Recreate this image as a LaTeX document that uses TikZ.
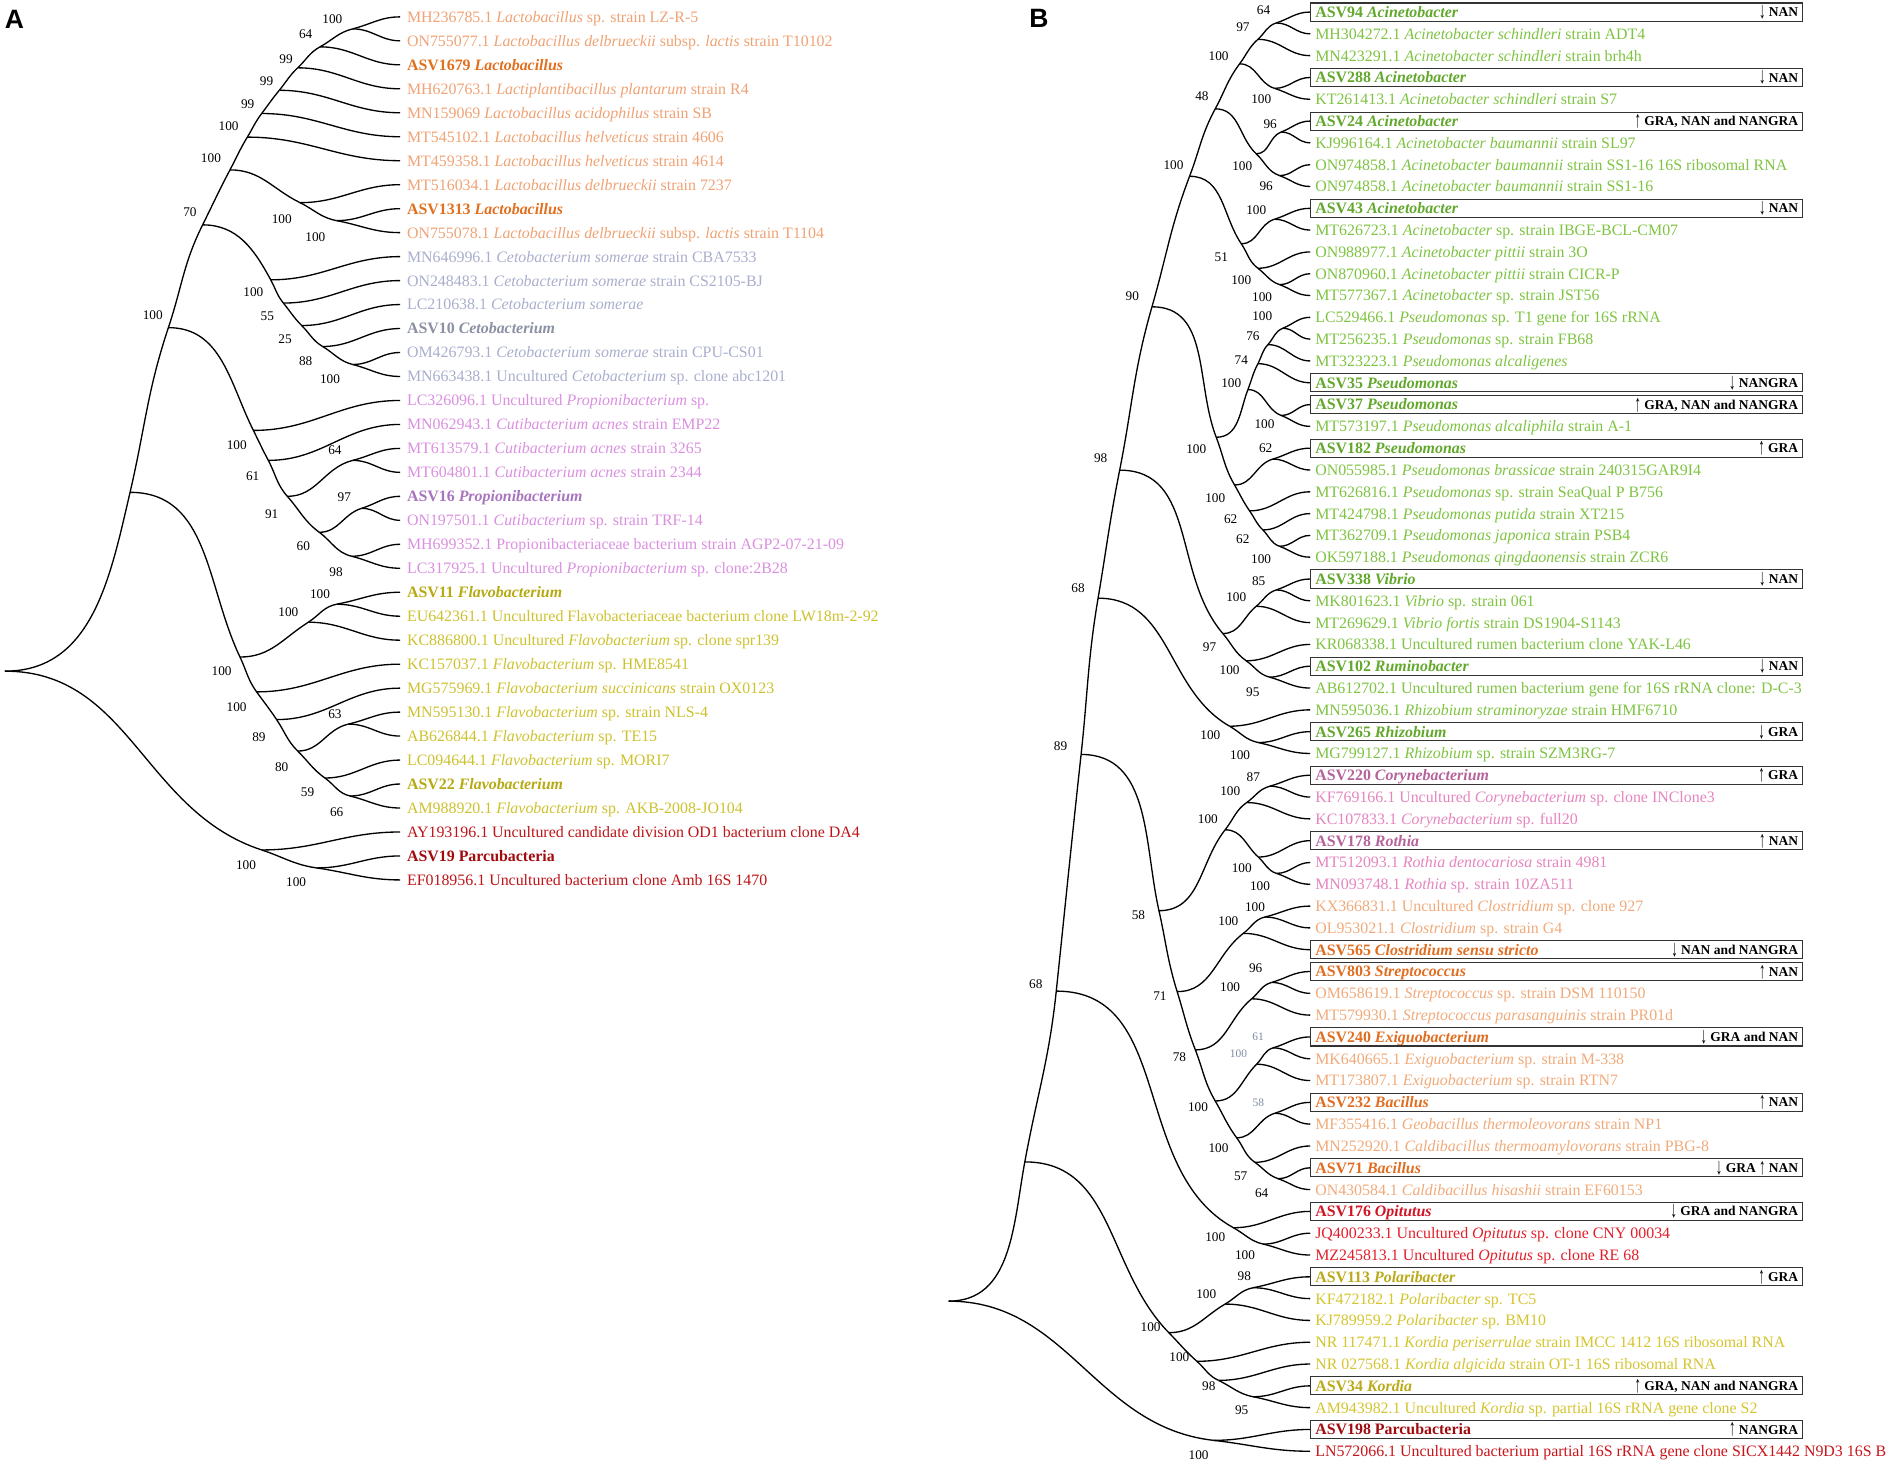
\documentclass[tikz,border=0pt]{standalone}
\usepackage{fontspec}
\usepackage{graphicx}
\setmainfont{Liberation Serif}
\newfontfamily\lsans{Liberation Sans}
\usetikzlibrary{calc}
\definecolor{lacL}{HTML}{EFA274}
\definecolor{lacD}{HTML}{E0701F}
\definecolor{cetL}{HTML}{A9AECC}
\definecolor{cetD}{HTML}{8B90A3}
\definecolor{proL}{HTML}{DA8FE0}
\definecolor{proD}{HTML}{A874BE}
\definecolor{flaL}{HTML}{CDC12E}
\definecolor{flaD}{HTML}{B5AA12}
\definecolor{parL}{HTML}{BC1418}
\definecolor{parD}{HTML}{A10B0E}
\definecolor{grL}{HTML}{7EC341}
\definecolor{grD}{HTML}{62A82C}
\definecolor{pkL}{HTML}{E585BF}
\definecolor{pkD}{HTML}{B5639A}
\definecolor{orL}{HTML}{F0AA7A}
\definecolor{orD}{HTML}{E06E22}
\definecolor{rdL}{HTML}{E11F2A}
\definecolor{rdD}{HTML}{D11525}
\definecolor{ylL}{HTML}{D4C42E}
\definecolor{ylD}{HTML}{BAAA1A}
\definecolor{pbL}{HTML}{C8141A}
\definecolor{lbgray}{HTML}{7D8BA0}
\newcommand\nd[4]{\path let \p1=($(#3)!.5!(#4)$) in coordinate (#1) at (#2pt,\y1);}
\newcommand\eHH[2]{\draw[br] let \p1=(#1),\p2=(#2),\n1={0.4*veclen(\x2-\x1,\y2-\y1)} in (#1) .. controls ($(#1)+(\n1,0pt)$) and ($(#2)-(\n1,0pt)$) .. (#2);}
\newcommand\eHT[3]{\draw[br] let \p1=(#1),\p2=(#2),\n1={0.4*veclen(\x2-\x1,\y2-\y1)} in (#1) .. controls ($(#1)+(\n1,0pt)$) and ($(#2)!\n1!180:(#3)$) .. (#2);}
\newcommand\eTH[2]{\draw[br] let \p1=(#1),\p2=(#2),\n1={0.4*veclen(\x2-\x1,\y2-\y1)} in (#1) .. controls ($(#1)!\n1!(#2)$) and ($(#2)-(\n1,0pt)$) .. (#2);}
\newcommand\eTT[3]{\draw[br] let \p1=(#1),\p2=(#2),\n1={0.4*veclen(\x2-\x1,\y2-\y1)} in (#1) .. controls ($(#1)!\n1!(#2)$) and ($(#2)!\n1!180:(#3)$) .. (#2);}
\newcommand\lfA[4]{\coordinate (#1) at (332,{14+(#2-1)*19.8889}); \node[leaf,text=#3] (t#1) at ($(#1)+(5.5,4.5)$) {#4};}
\newcommand\lfB[4]{\coordinate (#1) at (1087,{10+(#2-1)*18.0909}); \node[leaf,text=#3] (t#1) at ($(#1)+(4,4.5)$) {#4};}
\newcommand\bxB[2]{\node[bx] (x#1) at ($(#1)+(204,0)$) {}; \node[anno] (n#1) at ($(#1)+(405,3.8)$) {#2};}
\newcommand\bs[4]{\node[bsl] (l#1) at ($(#1)+(#2,#3)$) {#4};}
\newcommand\bsg[4]{\node[bsl,text=lbgray,font=\fontsize{9.5}{10}\selectfont] (l#1) at ($(#1)+(#2,#3)$) {#4};}
\newcommand\dn{\raisebox{-1.6pt}{\scalebox{0.85}[1.55]{\mdseries\fontsize{12.5}{12}\selectfont ↓}}}
\newcommand\up{\raisebox{-1.6pt}{\scalebox{0.85}[1.55]{\mdseries\fontsize{12.5}{12}\selectfont ↑}}}
\begin{document}
\begin{tikzpicture}[x=1pt,y=-1pt,
  br/.style={line width=1.1pt,black},
  leaf/.style={anchor=base west,inner sep=0pt,font=\fontsize{13.2}{14}\selectfont},
  bsl/.style={inner sep=0pt,font=\fontsize{11}{12}\selectfont},
  bx/.style={draw=black!80,line width=0.85pt,minimum width=408pt,minimum height=15pt,inner sep=0pt},
  anno/.style={anchor=base east,inner sep=0pt,font=\fontsize{11.2}{12}\selectfont\bfseries}]
\useasboundingbox (0,0) rectangle (1568,1215);
\node[font=\lsans\bfseries\fontsize{22}{22}\selectfont,inner sep=0pt] (pA) at (12,16) {A};
\node[font=\lsans\bfseries\fontsize{22}{22}\selectfont,inner sep=0pt] (pB) at (862,15) {B};
% ---------------- Panel A leaves
\lfA{a1}{1}{lacL}{MH236785.1 \textit{Lactobacillus} sp. strain LZ-R-5}
\lfA{a2}{2}{lacL}{ON755077.1 \textit{Lactobacillus delbrueckii} subsp. \textit{lactis} strain T10102}
\lfA{a3}{3}{lacD}{\textbf{ASV1679 \textit{Lactobacillus}}}
\lfA{a4}{4}{lacL}{MH620763.1 \textit{Lactiplantibacillus plantarum} strain R4}
\lfA{a5}{5}{lacL}{MN159069 \textit{Lactobacillus acidophilus} strain SB}
\lfA{a6}{6}{lacL}{MT545102.1 \textit{Lactobacillus helveticus} strain 4606}
\lfA{a7}{7}{lacL}{MT459358.1 \textit{Lactobacillus helveticus} strain 4614}
\lfA{a8}{8}{lacL}{MT516034.1 \textit{Lactobacillus delbrueckii} strain 7237}
\lfA{a9}{9}{lacD}{\textbf{ASV1313 \textit{Lactobacillus}}}
\lfA{a10}{10}{lacL}{ON755078.1 \textit{Lactobacillus delbrueckii} subsp. \textit{lactis} strain T1104}
\lfA{a11}{11}{cetL}{MN646996.1 \textit{Cetobacterium somerae} strain CBA7533}
\lfA{a12}{12}{cetL}{ON248483.1 \textit{Cetobacterium somerae} strain CS2105-BJ}
\lfA{a13}{13}{cetL}{LC210638.1 \textit{Cetobacterium somerae}}
\lfA{a14}{14}{cetD}{\textbf{ASV10 \textit{Cetobacterium}}}
\lfA{a15}{15}{cetL}{OM426793.1 \textit{Cetobacterium somerae} strain CPU-CS01}
\lfA{a16}{16}{cetL}{MN663438.1 Uncultured \textit{Cetobacterium} sp. clone abc1201}
\lfA{a17}{17}{proL}{LC326096.1 Uncultured \textit{Propionibacterium} sp.}
\lfA{a18}{18}{proL}{MN062943.1 \textit{Cutibacterium acnes} strain EMP22}
\lfA{a19}{19}{proL}{MT613579.1 \textit{Cutibacterium acnes} strain 3265}
\lfA{a20}{20}{proL}{MT604801.1 \textit{Cutibacterium acnes} strain 2344}
\lfA{a21}{21}{proD}{\textbf{ASV16 \textit{Propionibacterium}}}
\lfA{a22}{22}{proL}{ON197501.1 \textit{Cutibacterium} sp. strain TRF-14}
\lfA{a23}{23}{proL}{MH699352.1 Propionibacteriaceae bacterium strain AGP2-07-21-09}
\lfA{a24}{24}{proL}{LC317925.1 Uncultured \textit{Propionibacterium} sp. clone:2B28}
\lfA{a25}{25}{flaD}{\textbf{ASV11 \textit{Flavobacterium}}}
\lfA{a26}{26}{flaL}{EU642361.1 Uncultured Flavobacteriaceae bacterium clone LW18m-2-92}
\lfA{a27}{27}{flaL}{KC886800.1 Uncultured \textit{Flavobacterium} sp. clone spr139}
\lfA{a28}{28}{flaL}{KC157037.1 \textit{Flavobacterium} sp. HME8541}
\lfA{a29}{29}{flaL}{MG575969.1 \textit{Flavobacterium succinicans} strain OX0123}
\lfA{a30}{30}{flaL}{MN595130.1 \textit{Flavobacterium} sp. strain NLS-4}
\lfA{a31}{31}{flaL}{AB626844.1 \textit{Flavobacterium} sp. TE15}
\lfA{a32}{32}{flaL}{LC094644.1 \textit{Flavobacterium} sp. MORI7}
\lfA{a33}{33}{flaD}{\textbf{ASV22 \textit{Flavobacterium}}}
\lfA{a34}{34}{flaL}{AM988920.1 \textit{Flavobacterium} sp. AKB-2008-JO104}
\lfA{a35}{35}{parL}{AY193196.1 Uncultured candidate division OD1 bacterium clone DA4}
\lfA{a36}{36}{parD}{\textbf{ASV19 Parcubacteria}}
\lfA{a37}{37}{parL}{EF018956.1 Uncultured bacterium clone Amb 16S 1470}
% ---------------- Panel A internal nodes
\nd{l6}{292.6}{a1}{a2}
\nd{l5}{265.5}{l6}{a3}
\nd{l4}{247}{l5}{a4}
\nd{l3}{231.7}{l4}{a5}
\nd{l2}{217.1}{l3}{a6}
\nd{l1}{205.2}{l2}{a7}
\nd{l10}{279.3}{a9}{a10}
\nd{l9}{248.9}{a8}{l10}
\nd{lac}{190.8}{l1}{l9}
\nd{c5}{292.6}{a15}{a16}
\nd{c4}{267.7}{a14}{c5}
\nd{c3}{250.3}{a13}{c4}
\nd{c2}{235.1}{a12}{c3}
\nd{cet}{224.6}{a11}{c2}
\nd{nA2}{168.1}{lac}{cet}
\nd{p4}{292.6}{a19}{a20}
\nd{p6}{300}{a21}{a22}
\nd{p7}{291.8}{a23}{a24}
\nd{p5}{264.9}{p6}{p7}
\nd{p3}{238.4}{p4}{p5}
\nd{p2}{222.6}{a18}{p3}
\nd{pro}{210.2}{a17}{p2}
\nd{nA1}{139.7}{nA2}{pro}
\nd{f2}{279.3}{a25}{a26}
\nd{f1}{255.8}{f2}{a27}
\nd{f7}{289}{a30}{a31}
\nd{f9}{290.4}{a33}{a34}
\nd{f8}{269.6}{a32}{f9}
\nd{f6}{247}{f7}{f8}
\nd{f5}{229.5}{a29}{f6}
\nd{f4}{212.9}{a28}{f5}
\nd{fla}{199.1}{f1}{f4}
\nd{big}{107.9}{nA1}{fla}
\nd{pc2}{262.7}{a36}{a37}
\nd{pc}{217.1}{a35}{pc2}
\nd{rA}{4.1}{big}{pc}
% ---------------- Panel A branches
\eHT{rA}{big}{nA1}
\eHT{rA}{pc}{pc2}
\eTT{big}{nA1}{nA2}
\eHT{big}{fla}{f4}
\eTT{nA1}{nA2}{lac}
\eHT{nA1}{pro}{p2}
\eTT{nA2}{lac}{l1}
\eHT{nA2}{cet}{c2}
\eTT{lac}{l1}{l2}
\eHT{lac}{l9}{l10}
\eTT{l1}{l2}{l3}
\eHH{l1}{a7}
\eTT{l2}{l3}{l4}
\eHH{l2}{a6}
\eTT{l3}{l4}{l5}
\eHH{l3}{a5}
\eTT{l4}{l5}{l6}
\eHH{l4}{a4}
\eTT{l5}{l6}{a1}
\eHH{l5}{a3}
\eTH{l6}{a1}
\eHH{l6}{a2}
\eHH{l9}{a8}
\eTT{l9}{l10}{a10}
\eHH{l10}{a9}
\eTH{l10}{a10}
\eHH{cet}{a11}
\eTT{cet}{c2}{c3}
\eHH{c2}{a12}
\eTT{c2}{c3}{c4}
\eHH{c3}{a13}
\eTT{c3}{c4}{c5}
\eHH{c4}{a14}
\eTT{c4}{c5}{a16}
\eHH{c5}{a15}
\eTH{c5}{a16}
\eHH{pro}{a17}
\eTT{pro}{p2}{p3}
\eHH{p2}{a18}
\eTT{p2}{p3}{p5}
\eHT{p3}{p4}{a19}
\eTT{p3}{p5}{p7}
\eTH{p4}{a19}
\eHH{p4}{a20}
\eHT{p5}{p6}{a21}
\eTT{p5}{p7}{a24}
\eTH{p6}{a21}
\eHH{p6}{a22}
\eHH{p7}{a23}
\eTH{p7}{a24}
\eHT{fla}{f1}{f2}
\eTT{fla}{f4}{f5}
\eTT{f1}{f2}{a25}
\eHH{f1}{a27}
\eTH{f2}{a25}
\eHH{f2}{a26}
\eHH{f4}{a28}
\eTT{f4}{f5}{f6}
\eHH{f5}{a29}
\eTT{f5}{f6}{f8}
\eHT{f6}{f7}{a30}
\eTT{f6}{f8}{f9}
\eTH{f7}{a30}
\eHH{f7}{a31}
\eHH{f8}{a32}
\eTT{f8}{f9}{a34}
\eHH{f9}{a33}
\eTH{f9}{a34}
\eHH{pc}{a35}
\eTT{pc}{pc2}{a37}
\eHH{pc2}{a36}
\eTH{pc2}{a37}
% ---------------- Panel A support values
\bs{l6}{-16.9}{-8.1}{100}
\bs{l5}{-11.9}{-10.5}{64}
\bs{l4}{-9.7}{-7.2}{99}
\bs{l3}{-10.5}{-7.6}{99}
\bs{l2}{-11.6}{-8.1}{99}
\bs{l1}{-15.5}{-9.1}{100}
\bs{lac}{-15.8}{-9.5}{100}
\bs{nA2}{-10.5}{-10.5}{70}
\bs{nA1}{-13}{-10.5}{100}
\bs{l9}{-15.2}{13.6}{100}
\bs{l10}{-17.7}{13.4}{100}
\bs{cet}{-14.4}{10.5}{100}
\bs{c2}{-13.3}{11}{55}
\bs{c3}{-13.8}{11.5}{25}
\bs{c4}{-14.1}{11.9}{88}
\bs{c5}{-18.8}{11.9}{100}
\bs{pro}{-13.8}{11.9}{100}
\bs{p2}{-13}{13.4}{61}
\bs{p3}{-13}{14.8}{91}
\bs{p4}{-14.7}{-8.1}{64}
\bs{p5}{-13.3}{11.5}{60}
\bs{p6}{-14.4}{-9.5}{97}
\bs{p7}{-13}{12.9}{98}
\bs{fla}{-15.2}{11.5}{100}
\bs{f1}{-16.6}{-8.1}{100}
\bs{f2}{-13.8}{-8.6}{100}
\bs{f4}{-16.6}{12.9}{100}
\bs{f5}{-14.7}{14.3}{89}
\bs{f6}{-13.3}{13.4}{80}
\bs{f7}{-11.1}{-8.1}{63}
\bs{f8}{-14.4}{11.9}{59}
\bs{f9}{-11.1}{13.4}{66}
\bs{pc}{-13}{12.9}{100}
\bs{pc2}{-17}{12}{100}
% ---------------- Panel B leaves
\lfB{B1}{1}{grD}{\textbf{ASV94 \textit{Acinetobacter}}}
\lfB{B2}{2}{grL}{MH304272.1 \textit{Acinetobacter schindleri} strain ADT4}
\lfB{B3}{3}{grL}{MN423291.1 \textit{Acinetobacter schindleri} strain brh4h}
\lfB{B4}{4}{grD}{\textbf{ASV288 \textit{Acinetobacter}}}
\lfB{B5}{5}{grL}{KT261413.1 \textit{Acinetobacter schindleri} strain S7}
\lfB{B6}{6}{grD}{\textbf{ASV24 \textit{Acinetobacter}}}
\lfB{B7}{7}{grL}{KJ996164.1 \textit{Acinetobacter baumannii} strain SL97}
\lfB{B8}{8}{grL}{ON974858.1 \textit{Acinetobacter baumannii} strain SS1-16 16S ribosomal RNA}
\lfB{B9}{9}{grL}{ON974858.1 \textit{Acinetobacter baumannii} strain SS1-16}
\lfB{B10}{10}{grD}{\textbf{ASV43 \textit{Acinetobacter}}}
\lfB{B11}{11}{grL}{MT626723.1 \textit{Acinetobacter} sp. strain IBGE-BCL-CM07}
\lfB{B12}{12}{grL}{ON988977.1 \textit{Acinetobacter pittii} strain 3O}
\lfB{B13}{13}{grL}{ON870960.1 \textit{Acinetobacter pittii} strain CICR-P}
\lfB{B14}{14}{grL}{MT577367.1 \textit{Acinetobacter} sp. strain JST56}
\lfB{B15}{15}{grL}{LC529466.1 \textit{Pseudomonas} sp. T1 gene for 16S rRNA}
\lfB{B16}{16}{grL}{MT256235.1 \textit{Pseudomonas} sp. strain FB68}
\lfB{B17}{17}{grL}{MT323223.1 \textit{Pseudomonas alcaligenes}}
\lfB{B18}{18}{grD}{\textbf{ASV35 \textit{Pseudomonas}}}
\lfB{B19}{19}{grD}{\textbf{ASV37 \textit{Pseudomonas}}}
\lfB{B20}{20}{grL}{MT573197.1 \textit{Pseudomonas alcaliphila} strain A-1}
\lfB{B21}{21}{grD}{\textbf{ASV182 \textit{Pseudomonas}}}
\lfB{B22}{22}{grL}{ON055985.1 \textit{Pseudomonas brassicae} strain 240315GAR9I4}
\lfB{B23}{23}{grL}{MT626816.1 \textit{Pseudomonas} sp. strain SeaQual P B756}
\lfB{B24}{24}{grL}{MT424798.1 \textit{Pseudomonas putida} strain XT215}
\lfB{B25}{25}{grL}{MT362709.1 \textit{Pseudomonas japonica} strain PSB4}
\lfB{B26}{26}{grL}{OK597188.1 \textit{Pseudomonas qingdaonensis} strain ZCR6}
\lfB{B27}{27}{grD}{\textbf{ASV338 \textit{Vibrio}}}
\lfB{B28}{28}{grL}{MK801623.1 \textit{Vibrio} sp. strain 061}
\lfB{B29}{29}{grL}{MT269629.1 \textit{Vibrio fortis} strain DS1904-S1143}
\lfB{B30}{30}{grL}{KR068338.1 Uncultured rumen bacterium clone YAK-L46}
\lfB{B31}{31}{grD}{\textbf{ASV102 \textit{Ruminobacter}}}
\lfB{B32}{32}{grL}{AB612702.1 Uncultured rumen bacterium gene for 16S rRNA clone: D-C-3}
\lfB{B33}{33}{grL}{MN595036.1 \textit{Rhizobium straminoryzae} strain HMF6710}
\lfB{B34}{34}{grD}{\textbf{ASV265 \textit{Rhizobium}}}
\lfB{B35}{35}{grL}{MG799127.1 \textit{Rhizobium} sp. strain SZM3RG-7}
\lfB{B36}{36}{pkD}{\textbf{ASV220 \textit{Corynebacterium}}}
\lfB{B37}{37}{pkL}{KF769166.1 Uncultured \textit{Corynebacterium} sp. clone INClone3}
\lfB{B38}{38}{pkL}{KC107833.1 \textit{Corynebacterium} sp. full20}
\lfB{B39}{39}{pkD}{\textbf{ASV178 \textit{Rothia}}}
\lfB{B40}{40}{pkL}{MT512093.1 \textit{Rothia dentocariosa} strain 4981}
\lfB{B41}{41}{pkL}{MN093748.1 \textit{Rothia} sp. strain 10ZA511}
\lfB{B42}{42}{orL}{KX366831.1 Uncultured \textit{Clostridium} sp. clone 927}
\lfB{B43}{43}{orL}{OL953021.1 \textit{Clostridium} sp. strain G4}
\lfB{B44}{44}{orD}{\textbf{ASV565 \textit{Clostridium sensu stricto}}}
\lfB{B45}{45}{orD}{\textbf{ASV803 \textit{Streptococcus}}}
\lfB{B46}{46}{orL}{OM658619.1 \textit{Streptococcus} sp. strain DSM 110150}
\lfB{B47}{47}{orL}{MT579930.1 \textit{Streptococcus parasanguinis} strain PR01d}
\lfB{B48}{48}{orD}{\textbf{ASV240 \textit{Exiguobacterium}}}
\lfB{B49}{49}{orL}{MK640665.1 \textit{Exiguobacterium} sp. strain M-338}
\lfB{B50}{50}{orL}{MT173807.1 \textit{Exiguobacterium} sp. strain RTN7}
\lfB{B51}{51}{orD}{\textbf{ASV232 \textit{Bacillus}}}
\lfB{B52}{52}{orL}{MF355416.1 \textit{Geobacillus thermoleovorans} strain NP1}
\lfB{B53}{53}{orL}{MN252920.1 \textit{Caldibacillus thermoamylovorans} strain PBG-8}
\lfB{B54}{54}{orD}{\textbf{ASV71 \textit{Bacillus}}}
\lfB{B55}{55}{orL}{ON430584.1 \textit{Caldibacillus hisashii} strain EF60153}
\lfB{B56}{56}{rdD}{\textbf{ASV176 \textit{Opitutus}}}
\lfB{B57}{57}{rdL}{JQ400233.1 Uncultured \textit{Opitutus} sp. clone CNY 00034}
\lfB{B58}{58}{rdL}{MZ245813.1 Uncultured \textit{Opitutus} sp. clone RE 68}
\lfB{B59}{59}{ylD}{\textbf{ASV113 \textit{Polaribacter}}}
\lfB{B60}{60}{ylL}{KF472182.1 \textit{Polaribacter} sp. TC5}
\lfB{B61}{61}{ylL}{KJ789959.2 \textit{Polaribacter} sp. BM10}
\lfB{B62}{62}{ylL}{NR 117471.1 \textit{Kordia periserrulae} strain IMCC 1412 16S ribosomal RNA}
\lfB{B63}{63}{ylL}{NR 027568.1 \textit{Kordia algicida} strain OT-1 16S ribosomal RNA}
\lfB{B64}{64}{ylD}{\textbf{ASV34 \textit{Kordia}}}
\lfB{B65}{65}{ylL}{AM943982.1 Uncultured \textit{Kordia} sp. partial 16S rRNA gene clone S2}
\lfB{B66}{66}{parD}{\textbf{ASV198 Parcubacteria}}
\lfB{B67}{67}{pbL}{LN572066.1 Uncultured bacterium partial 16S rRNA gene clone SICX1442 N9D3 16S B}
% ---------------- Panel B internal nodes
\nd{q1}{1058.8}{B1}{B2}
\nd{q2}{1043.6}{q1}{B3}
\nd{q4}{1057.4}{B4}{B5}
\nd{q3}{1028.4}{q2}{q4}
\nd{q7}{1062.9}{B6}{B7}
\nd{q8}{1061.5}{B8}{B9}
\nd{q6}{1042.2}{q7}{q8}
\nd{q5}{1008.2}{q3}{q6}
\nd{q11}{1057.4}{B10}{B11}
\nd{q13}{1061.5}{B13}{B14}
\nd{q12}{1043.6}{B12}{q13}
\nd{q10}{1029.8}{q11}{q12}
\nd{q9}{986.9}{q5}{q10}
\nd{q17}{1064.3}{B15}{B16}
\nd{q18}{1051.9}{q17}{B17}
\nd{q19}{1043.6}{q18}{B18}
\nd{q19b}{1062.9}{B19}{B20}
\nd{q16}{1035.3}{q19}{q19b}
\nd{q21}{1056}{B21}{B22}
\nd{q22c}{1061.5}{B25}{B26}
\nd{q22b}{1047.7}{B24}{q22c}
\nd{q22}{1036.7}{B23}{q22b}
\nd{q20}{1024.2}{q21}{q22}
\nd{q15}{1009}{q16}{q20}
\nd{q14}{955.7}{q9}{q15}
\nd{v1}{1058.8}{B27}{B28}
\nd{v2}{1042.2}{v1}{B29}
\nd{v4}{1053.2}{B31}{B32}
\nd{v3}{1033.9}{B30}{v4}
\nd{q24}{1014.5}{v2}{v3}
\nd{q23}{928.9}{q14}{q24}
\nd{rh2}{1043.9}{B34}{B35}
\nd{rh}{1020.1}{B33}{rh2}
\nd{q25}{911}{q23}{rh}
\nd{co2}{1053.5}{B36}{B37}
\nd{co}{1034.3}{co2}{B38}
\nd{ro2}{1059}{B40}{B41}
\nd{ro}{1043.9}{B39}{ro2}
\nd{cr}{1016.4}{co}{ro}
\nd{cl2}{1049.4}{B42}{B43}
\nd{cl}{1031.5}{cl2}{B44}
\nd{st2}{1054.9}{B45}{B46}
\nd{st}{1038.4}{st2}{B47}
\nd{ex2}{1056.2}{B48}{B49}
\nd{ex}{1042.5}{ex2}{B50}
\nd{ba1}{1057.6}{B51}{B52}
\nd{ba3}{1060.4}{B54}{B55}
\nd{ba2}{1041.1}{B53}{ba3}
\nd{g4}{1026}{ba1}{ba2}
\nd{g3}{1008.2}{ex}{g4}
\nd{g2}{991.7}{st}{g3}
\nd{fi}{976.6}{cl}{g2}
\nd{gp}{961.5}{cr}{fi}
\nd{r3}{896.9}{q25}{gp}
\nd{op2}{1048}{B57}{B58}
\nd{op}{1023.3}{B56}{op2}
\nd{r2}{876.3}{r3}{op}
\nd{po2}{1039.7}{B59}{B60}
\nd{po}{1016.4}{po2}{B61}
\nd{k3}{1039.7}{B64}{B65}
\nd{k2}{1010.9}{B63}{k3}
\nd{ko}{993}{B62}{k2}
\nd{pk}{969.7}{po}{ko}
\nd{r1}{850.2}{r2}{pk}
\nd{pb}{1006.8}{B66}{B67}
\nd{rB}{787}{r1}{pb}
% ---------------- Panel B branches
\eHT{rB}{r1}{r2}
\eHT{rB}{pb}{B67}
\eHH{pb}{B66}
\eTH{pb}{B67}
\eTT{r1}{r2}{r3}
\eHT{r1}{pk}{ko}
\eHT{pk}{po}{po2}
\eTT{po}{po2}{B59}
\eTH{po2}{B59}
\eHH{po2}{B60}
\eHH{po}{B61}
\eTT{pk}{ko}{k2}
\eHH{ko}{B62}
\eTT{ko}{k2}{k3}
\eHH{k2}{B63}
\eTT{k2}{k3}{B65}
\eHH{k3}{B64}
\eTH{k3}{B65}
\eTT{r2}{r3}{q25}
\eHT{r2}{op}{op2}
\eHH{op}{B56}
\eTT{op}{op2}{B58}
\eHH{op2}{B57}
\eTH{op2}{B58}
\eTT{r3}{q25}{q23}
\eHT{r3}{gp}{fi}
\eTT{q25}{q23}{q14}
\eHT{q25}{rh}{rh2}
\eHH{rh}{B33}
\eTT{rh}{rh2}{B35}
\eHH{rh2}{B34}
\eTH{rh2}{B35}
\eTT{q23}{q14}{q9}
\eHT{q23}{q24}{v3}
\eHT{q24}{v2}{v1}
\eTT{v2}{v1}{B27}
\eTH{v1}{B27}
\eHH{v1}{B28}
\eHH{v2}{B29}
\eTT{q24}{v3}{v4}
\eHH{v3}{B30}
\eTT{v3}{v4}{B32}
\eHH{v4}{B31}
\eTH{v4}{B32}
\eTT{q14}{q9}{q5}
\eHT{q14}{q15}{q20}
\eTT{q9}{q5}{q3}
\eHT{q9}{q10}{q12}
\eTT{q5}{q3}{q2}
\eHT{q5}{q6}{q8}
\eTT{q3}{q2}{q1}
\eHT{q3}{q4}{B5}
\eTT{q2}{q1}{B1}
\eHH{q2}{B3}
\eTH{q1}{B1}
\eHH{q1}{B2}
\eHH{q4}{B4}
\eTH{q4}{B5}
\eHT{q6}{q7}{B6}
\eTT{q6}{q8}{B9}
\eTH{q7}{B6}
\eHH{q7}{B7}
\eHH{q8}{B8}
\eTH{q8}{B9}
\eHT{q10}{q11}{B10}
\eTT{q10}{q12}{q13}
\eTH{q11}{B10}
\eHH{q11}{B11}
\eHH{q12}{B12}
\eTT{q12}{q13}{B14}
\eHH{q13}{B13}
\eTH{q13}{B14}
\eHT{q15}{q16}{q19}
\eTT{q15}{q20}{q22}
\eTT{q16}{q19}{q18}
\eHT{q16}{q19b}{B20}
\eTT{q19}{q18}{q17}
\eHH{q19}{B18}
\eTT{q18}{q17}{B15}
\eHH{q18}{B17}
\eTH{q17}{B15}
\eHH{q17}{B16}
\eHH{q19b}{B19}
\eTH{q19b}{B20}
\eHT{q20}{q21}{B21}
\eTT{q20}{q22}{q22b}
\eTH{q21}{B21}
\eHH{q21}{B22}
\eHH{q22}{B23}
\eTT{q22}{q22b}{q22c}
\eHH{q22b}{B24}
\eTT{q22b}{q22c}{B26}
\eHH{q22c}{B25}
\eTH{q22c}{B26}
\eHT{gp}{cr}{co}
\eTT{gp}{fi}{g2}
\eTT{cr}{co}{co2}
\eHT{cr}{ro}{ro2}
\eTT{co}{co2}{B36}
\eHH{co}{B38}
\eTH{co2}{B36}
\eHH{co2}{B37}
\eHH{ro}{B39}
\eTT{ro}{ro2}{B41}
\eHH{ro2}{B40}
\eTH{ro2}{B41}
\eHT{fi}{cl}{cl2}
\eTT{fi}{g2}{g3}
\eTT{cl}{cl2}{B42}
\eHH{cl}{B44}
\eTH{cl2}{B42}
\eHH{cl2}{B43}
\eHT{g2}{st}{st2}
\eTT{g2}{g3}{g4}
\eTT{st}{st2}{B45}
\eHH{st}{B47}
\eTH{st2}{B45}
\eHH{st2}{B46}
\eHT{g3}{ex}{ex2}
\eTT{g3}{g4}{ba2}
\eTT{ex}{ex2}{B48}
\eHH{ex}{B50}
\eTH{ex2}{B48}
\eHH{ex2}{B49}
\eHT{g4}{ba1}{B51}
\eTT{g4}{ba2}{ba3}
\eTH{ba1}{B51}
\eHH{ba1}{B52}
\eHH{ba2}{B53}
\eTT{ba2}{ba3}{B55}
\eHH{ba3}{B54}
\eTH{ba3}{B55}
% ---------------- Panel B boxes
\bxB{B1}{\dn\ NAN}
\bxB{B4}{\dn\ NAN}
\bxB{B6}{\up\ GRA, NAN and NANGRA}
\bxB{B10}{\dn\ NAN}
\bxB{B18}{\dn\ NANGRA}
\bxB{B19}{\up\ GRA, NAN and NANGRA}
\bxB{B21}{\up\ GRA}
\bxB{B27}{\dn\ NAN}
\bxB{B31}{\dn\ NAN}
\bxB{B34}{\dn\ GRA}
\bxB{B36}{\up\ GRA}
\bxB{B39}{\up\ NAN}
\bxB{B44}{\dn\ NAN and NANGRA}
\bxB{B45}{\up\ NAN}
\bxB{B48}{\dn\ GRA and NAN}
\bxB{B51}{\up\ NAN}
\bxB{B54}{\dn\ GRA \up\ NAN}
\bxB{B56}{\dn\ GRA and NANGRA}
\bxB{B59}{\up\ GRA}
\bxB{B64}{\up\ GRA, NAN and NANGRA}
\bxB{B66}{\up\ NANGRA}
% ---------------- Panel B support values
\bs{q1}{-10.5}{-11}{64}
\bs{q2}{-12.4}{-9.8}{97}
\bs{q3}{-17.4}{-6.7}{100}
\bs{q4}{-11}{8.6}{100}
\bs{q5}{-11}{-10.6}{48}
\bs{q7}{-9.1}{-6.7}{96}
\bs{q6}{-11.6}{10.2}{100}
\bs{q8}{-11}{9}{96}
\bs{q9}{-13.3}{-9.4}{100}
\bs{q11}{-15.2}{-7.1}{100}
\bs{q10}{-16.6}{11}{51}
\bs{q12}{-13.8}{9.8}{100}
\bs{q13}{-14.4}{10.6}{100}
\bs{q14}{-16.3}{-9}{90}
\bs{q17}{-17.1}{-9.8}{100}
\bs{q18}{-12.4}{-7.1}{76}
\bs{q19}{-13.8}{-2.7}{74}
\bs{q16}{-13.8}{-5.5}{100}
\bs{q19b}{-13.8}{7.1}{100}
\bs{q15}{-16.6}{9.8}{100}
\bs{q21}{-6}{-9.4}{62}
\bs{q20}{-16}{10.6}{100}
\bs{q22}{-15.7}{7.1}{62}
\bs{q22b}{-16.6}{7.8}{62}
\bs{q22c}{-15.2}{10.6}{100}
\bs{q23}{-15.7}{-9.8}{98}
\bs{v1}{-14.6}{-7.1}{85}
\bs{v2}{-16.6}{-7.8}{100}
\bs{q24}{-11}{11}{97}
\bs{v3}{-13.8}{7.8}{100}
\bs{v4}{-13.8}{12.5}{95}
\bs{q25}{-16.6}{-8.6}{68}
\bs{rh}{-16}{7.5}{100}
\bs{rh2}{-15.1}{10.3}{100}
\bs{r3}{-17}{-6.9}{89}
\bs{co2}{-13.7}{-7.7}{87}
\bs{co}{-13.7}{-9.6}{100}
\bs{cr}{-14.3}{-9.2}{100}
\bs{ro}{-13.7}{9.6}{100}
\bs{ro2}{-13.7}{10.7}{100}
\bs{gp}{-17}{3.8}{58}
\bs{cl2}{-8.2}{-8.4}{100}
\bs{cl}{-12.4}{-10.3}{100}
\bs{st2}{-13.2}{-12.2}{96}
\bs{st}{-17.9}{-9.6}{100}
\bs{fi}{-14.3}{3.8}{71}
\bs{g2}{-13.2}{5.7}{78}
\bsg{ex2}{-12.4}{-8.8}{61}
\bsg{ex}{-15.1}{-8.4}{100}
\bs{g3}{-14.3}{5}{100}
\bsg{ba1}{-13.7}{-8.8}{58}
\bs{g4}{-15.1}{8.4}{100}
\bs{ba2}{-11.8}{11.5}{57}
\bs{ba3}{-13.7}{11.9}{64}
\bs{r2}{-17}{-5.7}{68}
\bs{op}{-15.1}{7.7}{100}
\bs{op2}{-15.1}{8.8}{100}
\bs{po2}{-7.4}{-9.6}{98}
\bs{po}{-15.7}{-8.4}{100}
\bs{pk}{-15.1}{-5}{100}
\bs{ko}{-14.6}{-3.8}{100}
\bs{k2}{-8}{5}{98}
\bs{k3}{-9.6}{11.1}{95}
\bs{pb}{-12.4}{12.6}{100}
\end{tikzpicture}
\end{document}
